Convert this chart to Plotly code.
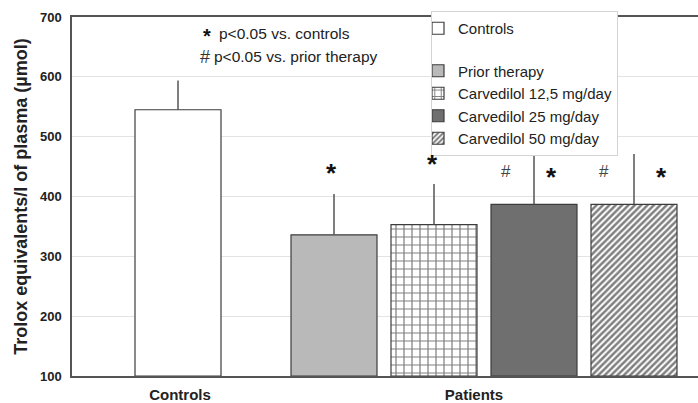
import plotly.graph_objects as go

# ---- data ----
series_names = ["Controls", "Prior therapy", "Carvedilol 12,5 mg/day",
                "Carvedilol 25 mg/day", "Carvedilol 50 mg/day"]
group_of_series = ["Controls", "Patients", "Patients", "Patients", "Patients"]
means = [545, 336, 353, 387, 387]
sd_upper = [49, 68, 68, 84, 84]
group_labels = ["Controls", "Patients"]
y_ticks = [100, 200, 300, 400, 500, 600, 700]
notes = ["p<0.05 vs. controls", "p<0.05 vs. prior therapy"]
sig_controls = [False, True, True, True, True]   # * p<0.05 vs controls
sig_prior = [False, False, False, True, True]    # # p<0.05 vs prior therapy

# ---- styling / layout ----
fills = ["white", "#b9b9b9", "white", "#6f6f6f", "white"]
patterns = ["", "", "+", "", "/"]
pat_size = [8, 8, 8, 8, 4.5]
pat_solid = [0.2, 0.2, 0.28, 0.2, 0.55]
outline = "#3c3c3c"
FONT = "Liberation Sans, Arial, sans-serif"

# positions along the x axis (bar spacing = 1 unit)
gap_between_groups = 1.56
xpos = []
for i, g in enumerate(group_of_series):
    if g == "Controls":
        xpos.append(0.0)
    else:
        xpos.append(gap_between_groups + (i - 1))
group_tick_pos = [0.02, 2.96]

fig = go.Figure()
for i, name in enumerate(series_names):
    fig.add_trace(go.Bar(
        x=[xpos[i]], y=[means[i] - 100], base=100,
        name=name,
        width=0.86,
        legendgroup="c" if group_of_series[i] == "Controls" else "p",
        marker=dict(color=fills[i],
                    line=dict(color=outline, width=1.2),
                    pattern=dict(shape=patterns[i], fgcolor="#000000",
                                 bgcolor=fills[i], size=pat_size[i],
                                 solidity=pat_solid[i], fillmode="overlay")),
        error_y=dict(type="data", symmetric=False, array=[sd_upper[i]],
                     arrayminus=[0], color="#555555", thickness=1.5, width=0),
        hoverinfo="skip",
    ))

annotations = []
# significance markers
star_dx = [0, -0.03, -0.02, 0.17, 0.27]
hash_dx = [0, 0, 0, -0.28, -0.30]
for i in range(len(series_names)):
    if sig_controls[i]:
        if sig_prior[i]:
            sy = 433
        else:
            sy = 440 if i == 1 else 455
        annotations.append(dict(x=xpos[i] + star_dx[i], y=sy, text="<b>*</b>",
                                showarrow=False, yanchor="middle",
                                font=dict(size=26, color="#111111", family=FONT)))
    if sig_prior[i]:
        annotations.append(dict(x=xpos[i] + hash_dx[i], y=441, text="#",
                                showarrow=False, yanchor="middle",
                                font=dict(size=17, color="#444444", family=FONT)))

# significance notes
annotations.append(dict(xref="paper", yref="paper", x=(207 - 72) / 626, y=1 - (36 - 17) / 359,
                        text="<b>*</b>", showarrow=False, xanchor="center", yanchor="middle",
                        font=dict(size=20, color="#111111", family=FONT)))
annotations.append(dict(xref="paper", yref="paper", x=(217 - 72) / 626, y=1 - (33 - 17) / 359,
                        text=notes[0], showarrow=False, xanchor="left", yanchor="middle",
                        font=dict(size=15.5, color="#222222", family=FONT)))
annotations.append(dict(xref="paper", yref="paper", x=(205 - 72) / 626, y=1 - (57 - 17) / 359,
                        text="#", showarrow=False, xanchor="center", yanchor="middle",
                        font=dict(size=18, color="#333333", family=FONT)))
annotations.append(dict(xref="paper", yref="paper", x=(212 - 72) / 626, y=1 - (56 - 17) / 359,
                        text=notes[1], showarrow=False, xanchor="left", yanchor="middle",
                        font=dict(size=15.5, color="#222222", family=FONT)))

fig.update_layout(
    width=698, height=403,
    margin=dict(l=72, r=0, t=17, b=27, autoexpand=False),
    paper_bgcolor="white", plot_bgcolor="white",
    barmode="overlay",
    font=dict(family=FONT, color="#222222"),
    showlegend=True,
    legend=dict(x=(431 - 72) / 626, y=1 + 6 / 359, xanchor="left", yanchor="top",
                bgcolor="white", bordercolor="#d4d4d4", borderwidth=1,
                font=dict(size=15, color="#222222", family=FONT),
                traceorder="grouped", tracegroupgap=20, itemwidth=30,
                indentation=-14),
    annotations=annotations,
    xaxis=dict(range=[-1.06, 5.20], tickvals=group_tick_pos, ticktext=group_labels,
               showgrid=False, zeroline=False, showline=True, linecolor="#555555",
               linewidth=1.5, mirror=True, ticks="", ticklen=0, ticklabelstandoff=4,
               tickfont=dict(size=15, family=FONT, color="#222222", weight="bold")),
    yaxis=dict(range=[100, 700], tickvals=y_ticks, showgrid=True, gridcolor="#e3e3e3",
               gridwidth=1.2, zeroline=False, showline=True, linecolor="#555555",
               linewidth=1.5, ticks="", ticklen=0, ticklabelstandoff=6,
               tickfont=dict(size=13, family=FONT, color="#222222", weight="bold"),
               title=dict(text="Trolox equivalents/l of plasma (µmol)", standoff=8,
                          font=dict(size=18, family=FONT, color="#222222", weight="bold"))),
)

fig.write_html("out.html", config={"displayModeBar": False},
               post_script="document.body.style.margin='0px';")
